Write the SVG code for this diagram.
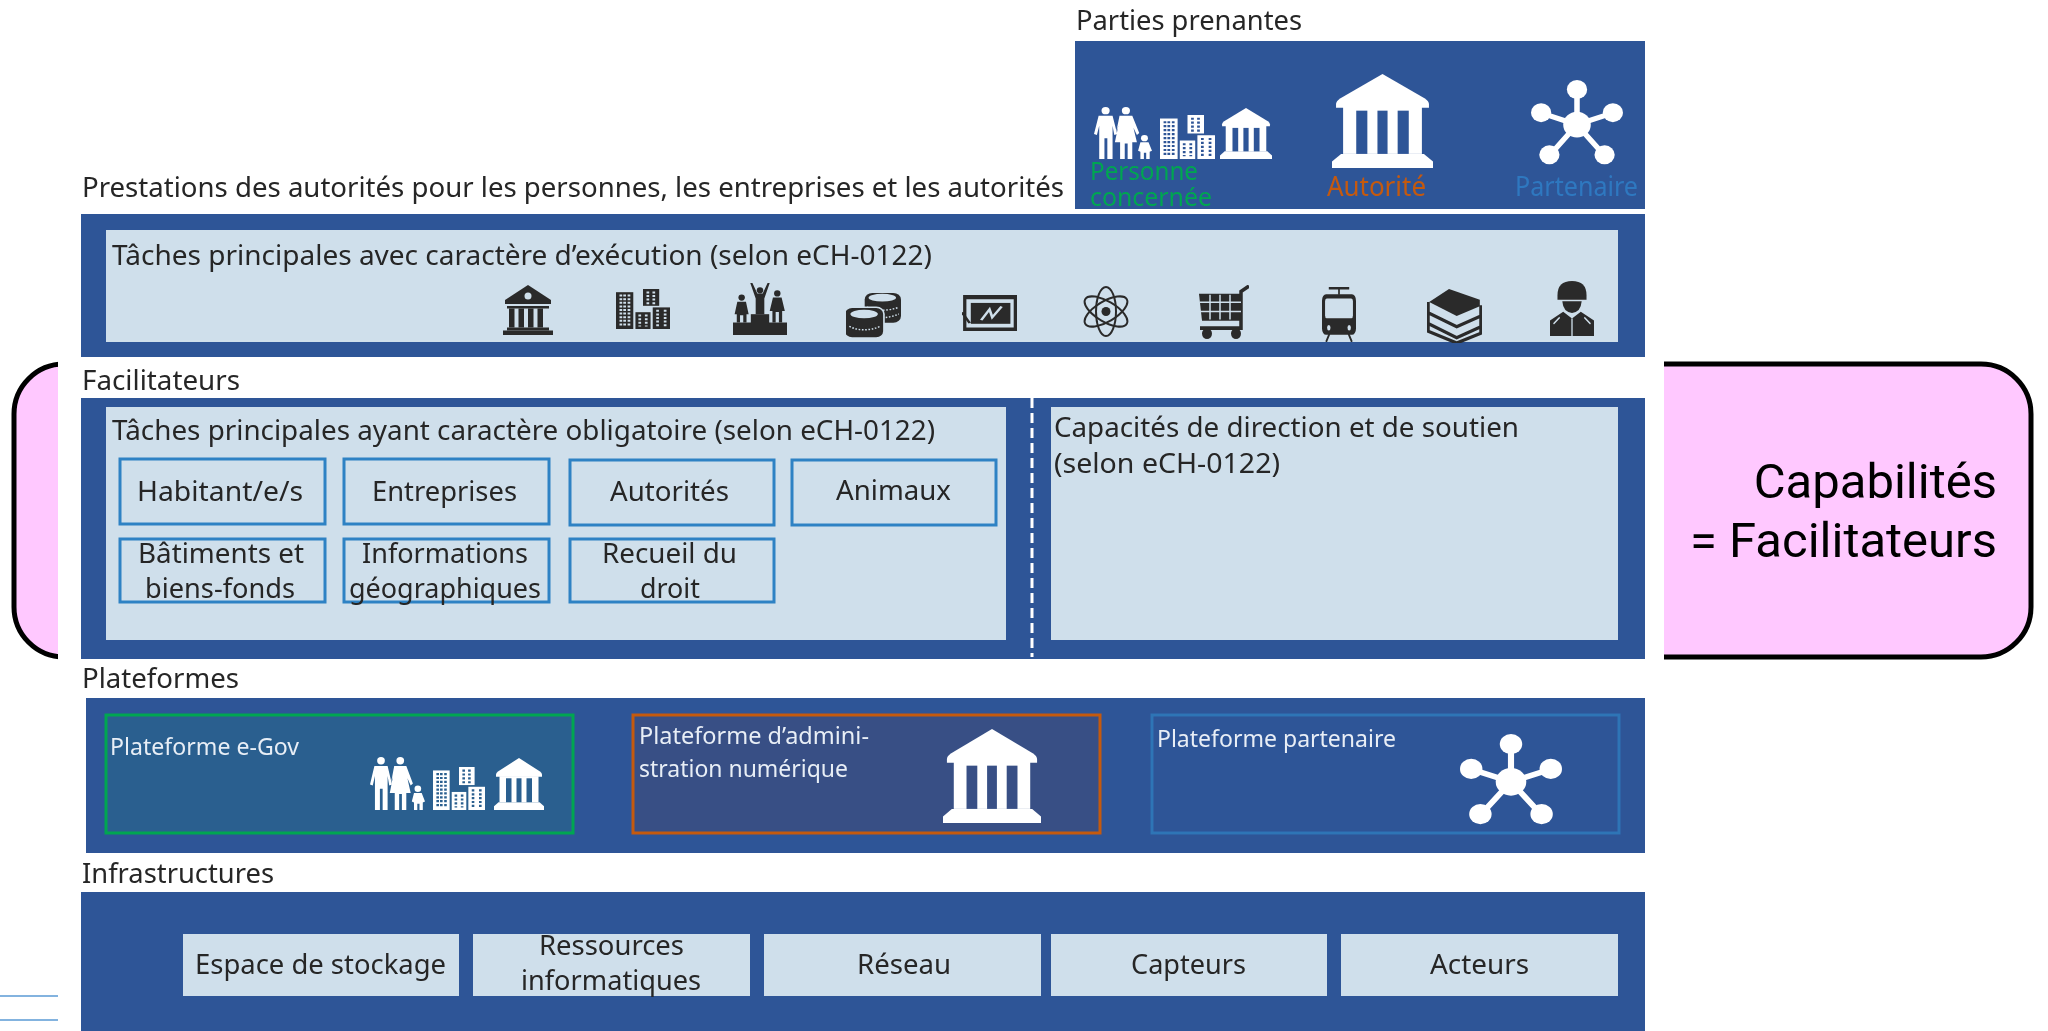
<svg xmlns="http://www.w3.org/2000/svg" width="2048" height="1031" viewBox="0 0 2048 1031">
<style>
.b{fill:#2f5597}.l{fill:#cfdfeb}
.t{font-family:"Noto Sans","Open Sans",sans-serif;font-size:28px;fill:#262626}
.w{font-size:24px;fill:#e8eef6}
.s{font-size:25px}
.c{stroke:#2e82c4;stroke-width:3;fill:none}
.k{fill:#2b2a29;--bg:#cfdfeb}
.o{fill:#fff;--bg:#2f5597}
</style>
<defs>
<filter id="soft" filterUnits="userSpaceOnUse" x="0" y="0" width="2048" height="1031"><feGaussianBlur stdDeviation="0.7"/></filter>
<symbol id="bank" viewBox="0 0 100 100" preserveAspectRatio="none">
<path d="M50 0L92 26Q96 29 96 32V36H4V32Q4 29 8 26Z"/>
<rect x="11" y="35" width="78" height="50"/>
<path d="M9 85H91L100 93V100H0V93Z"/>
<g style="fill:var(--bg)"><rect x="24" y="39" width="11" height="46"/><rect x="45" y="39" width="10" height="46"/><rect x="65" y="39" width="11" height="46"/></g>
</symbol>
<symbol id="bankd" viewBox="0 0 100 100" preserveAspectRatio="none">
<path d="M50 0L96 30V38H4V30Z"/>
<rect x="8" y="42" width="84" height="5"/>
<rect x="12" y="47" width="11" height="38"/><rect x="31" y="47" width="11" height="38"/><rect x="50" y="47" width="11" height="38"/><rect x="69" y="47" width="11" height="38"/>
<rect x="8" y="85" width="84" height="6"/><rect x="0" y="91" width="100" height="9"/>
<circle cx="50" cy="22" r="7" style="fill:var(--bg)"/>
</symbol>
<symbol id="family" viewBox="0 0 100 100" preserveAspectRatio="none">
<circle cx="20" cy="7" r="7"/><circle cx="55" cy="7" r="7"/><circle cx="87" cy="60" r="6"/>
<path d="M8 17H32L40 52L35 54L32 36V100H23V60H18V100H9V36L5 54L0 52Z"/>
<path d="M44 17H66L78 50L74 54L68 40L74 68H66V100H58V70H53V100H45V68H36L42 36L38 50Z"/>
<path d="M80 68H94L100 84L96 86V100H90V88H86V100H80V86L76 84Z"/>
</symbol>
<symbol id="bld" viewBox="0 0 100 100" preserveAspectRatio="none">
<rect x="0" y="8" width="32" height="92"/><rect x="50" y="0" width="30" height="42"/><rect x="36" y="58" width="28" height="42"/><rect x="68" y="46" width="32" height="54"/>
<g style="stroke:var(--bg);stroke-width:5;stroke-dasharray:5 4;fill:none"><path d="M9 14V94M16 14V94M24 14V94M59 6V38M70 6V38M44 64V94M56 64V94M77 52V94M91 52V94"/></g>
</symbol>
<symbol id="podium" viewBox="0 0 100 100" preserveAspectRatio="none">
<rect x="0" y="76" width="100" height="24"/><rect x="33" y="60" width="34" height="18"/>
<circle cx="50" cy="14" r="6"/><path d="M32 0L36 0L45 20H55L64 0L68 0L58 30V60H42V30Z"/>
<circle cx="16" cy="28" r="6"/><path d="M8 36H24L29 60H25V76H19V62H13V76H7V60H3Z"/>
<circle cx="82" cy="20" r="6"/><path d="M74 28H90L96 54H91V76H85V56H79V76H73V54H68Z"/>
</symbol>
<symbol id="coins" viewBox="0 0 100 100" preserveAspectRatio="none">
<rect x="34" y="6" width="66" height="62" rx="14"/>
<ellipse cx="66" cy="16" rx="25" ry="8" style="fill:var(--bg)"/>
<path d="M38 36Q66 48 96 36M60 58Q80 58 96 50" style="stroke:var(--bg);stroke-width:3;stroke-dasharray:3 3;fill:none"/>
<rect x="-3" y="36" width="72" height="64" rx="14" style="stroke:var(--bg);stroke-width:3"/>
<ellipse cx="33" cy="50" rx="25" ry="9" style="fill:var(--bg)"/>
<path d="M6 76Q32 90 62 76" style="stroke:var(--bg);stroke-width:3;stroke-dasharray:3 3;fill:none"/>
</symbol>
<symbol id="monitor" viewBox="0 0 100 100" preserveAspectRatio="none">
<path fill-rule="evenodd" d="M2 0H100V100H2ZM8 12V90H94V12Z"/>
<rect x="16" y="22" width="72" height="58"/>
<path d="M35 70L50 40L55 62L72 32" style="stroke:var(--bg);stroke-width:5;fill:none"/>
<path d="M0 48L14 78" style="stroke:#2b2a29;stroke-width:5"/>
</symbol>
<symbol id="atom" viewBox="0 0 100 100" preserveAspectRatio="none">
<g fill="none" stroke="#2b2a29" stroke-width="4"><ellipse cx="50" cy="50" rx="20" ry="48"/><ellipse cx="50" cy="50" rx="20" ry="48" transform="rotate(60 50 50)"/><ellipse cx="50" cy="50" rx="20" ry="48" transform="rotate(-60 50 50)"/></g>
<circle cx="50" cy="50" r="9"/>
</symbol>
<symbol id="cart" viewBox="0 0 100 100" preserveAspectRatio="none">
<path d="M0 16H82V66H6Z"/>
<path d="M84 70V12L100 2M2 80H84V68" style="stroke:#2b2a29;stroke-width:7;fill:none"/>
<circle cx="16" cy="90" r="10"/><circle cx="74" cy="90" r="10"/>
<g style="stroke:var(--bg);stroke-width:3"><path d="M2 32H84M3 49H84M22 18V64M42 18V64M62 18V64"/></g>
</symbol>
<symbol id="tram" viewBox="0 0 100 100" preserveAspectRatio="none">
<path d="M20 2H80M50 2V14" style="stroke:#2b2a29;stroke-width:5;fill:none"/>
<rect x="0" y="13" width="100" height="74" rx="12"/>
<rect x="9" y="21" width="82" height="36" rx="5" style="fill:var(--bg)"/>
<circle cx="20" cy="74" r="5" style="fill:var(--bg)"/><circle cx="80" cy="74" r="5" style="fill:var(--bg)"/>
<path d="M22 85L12 100M78 85L88 100" style="stroke:#2b2a29;stroke-width:5;fill:none"/>
</symbol>
<symbol id="books" viewBox="0 0 100 100" preserveAspectRatio="none">
<path d="M40 0L96 20V32L54 50L4 24Z"/>
<path d="M2 24V44L54 70L98 50V30M2 44V64L54 90L98 70V50M2 64V78L54 100L98 82V70" style="stroke:#2b2a29;stroke-width:6;fill:none"/>
</symbol>
<symbol id="soldier" viewBox="0 0 100 100" preserveAspectRatio="none">
<path d="M17 26Q17 0 50 0Q83 0 83 26V34H17Z"/>
<path d="M28 37H72Q70 57 50 58Q30 57 28 37Z"/>
<path d="M0 100V72L30 56L50 68L70 56L100 72V100Z"/>
<path d="M50 68V100M8 78L22 66M92 78L78 66" style="stroke:var(--bg);stroke-width:3;fill:none"/>
</symbol>
<symbol id="net" viewBox="0 0 100 100" preserveAspectRatio="none">
<path d="M50 52L50 10M50 52L10 38M50 52L90 38M50 52L20 88M50 52L80 88" stroke="#fff" stroke-width="6" fill="none"/>
<circle cx="50" cy="52" r="15"/><circle cx="50" cy="11" r="11"/><circle cx="11" cy="38" r="11"/><circle cx="89" cy="38" r="11"/><circle cx="20" cy="87" r="11"/><circle cx="80" cy="87" r="11"/>
</symbol>
</defs>

<g id="capabilites">
<rect x="14" y="364" width="2017" height="293" rx="50" fill="#ffc8ff" stroke="#000" stroke-width="5"/>
<rect x="58" y="355" width="1606" height="312" fill="#fff"/>
<text x="1997" y="498" text-anchor="end" font-family="Roboto,sans-serif" font-size="49" fill="#000">Capabilités</text>
<text x="1997" y="557" text-anchor="end" font-family="Roboto,sans-serif" font-size="49" fill="#000">= Facilitateurs</text>
</g>
<g id="connectors"><path d="M0 996H58M0 1020H58" stroke="#5b9bd5" stroke-width="1.5" fill="none"/></g>

<g filter="url(#soft)">
<g id="parties">
<text class="t" x="1076" y="30" textLength="226" lengthAdjust="spacingAndGlyphs">Parties prenantes</text>
<rect class="b" x="1075" y="41" width="570" height="168"/>
<g class="o">
<use href="#family" x="1094" y="107" width="58" height="52"/>
<use href="#bld" x="1160" y="115" width="55" height="44"/>
<use href="#bank" x="1220" y="108" width="52" height="51"/>
<use href="#bank" x="1332" y="74" width="101" height="94"/>
<use href="#net" x="1531" y="80" width="92" height="86"/>
</g>
<text class="t s" x="1090" y="180" textLength="108" lengthAdjust="spacingAndGlyphs" style="fill:#00a651">Personne</text>
<text class="t s" x="1090" y="206" textLength="122" lengthAdjust="spacingAndGlyphs" style="fill:#00a651">concernée</text>
<text class="t" x="1327" y="196" textLength="99" lengthAdjust="spacingAndGlyphs" style="fill:#c55a11">Autorité</text>
<text class="t" x="1515" y="196" textLength="123" lengthAdjust="spacingAndGlyphs" style="fill:#2f78c0">Partenaire</text>
</g>

<g id="prestations">
<text class="t" x="82" y="197" textLength="982" lengthAdjust="spacingAndGlyphs">Prestations des autorités pour les personnes, les entreprises et les autorités</text>
<rect class="b" x="81" y="214" width="1564" height="143"/>
<rect class="l" x="106" y="230" width="1512" height="112"/>
<text class="t" x="112" y="265" textLength="820" lengthAdjust="spacingAndGlyphs">Tâches principales avec caractère d’exécution (selon eCH-0122)</text>
<g class="k">
<use href="#bankd" x="503" y="285" width="50" height="50"/>
<use href="#bld" x="616" y="289" width="54" height="40"/>
<use href="#podium" x="733" y="283" width="54" height="52"/>
<use href="#coins" x="846" y="290" width="55" height="48"/>
<use href="#monitor" x="962" y="295" width="55" height="36"/>
<use href="#atom" x="1081" y="286" width="50" height="51"/>
<use href="#cart" x="1199" y="285" width="50" height="54"/>
<use href="#tram" x="1322" y="287" width="34" height="55"/>
<use href="#books" x="1427" y="289" width="55" height="54"/>
<use href="#soldier" x="1550" y="281" width="44" height="55"/>
</g>
</g>

<g id="facilitateurs">
<text class="t" x="82" y="390" textLength="158" lengthAdjust="spacingAndGlyphs">Facilitateurs</text>
<rect class="b" x="81" y="398" width="1564" height="261"/>
<rect class="l" x="106" y="407" width="900" height="233"/>
<rect class="l" x="1051" y="407" width="567" height="233"/>
<path d="M1032 398V657" stroke="#fff" stroke-width="3" stroke-dasharray="10 5" fill="none"/>
<text class="t" x="112" y="440" textLength="823" lengthAdjust="spacingAndGlyphs">Tâches principales ayant caractère obligatoire (selon eCH-0122)</text>
<text class="t" x="1054" y="437" textLength="465" lengthAdjust="spacingAndGlyphs">Capacités de direction et de soutien</text>
<text class="t" x="1054" y="473" textLength="226" lengthAdjust="spacingAndGlyphs">(selon eCH-0122)</text>
</g>
<g id="habitants"><rect class="c" x="120" y="459" width="205" height="65"/><text class="t" x="137" y="501" textLength="166" lengthAdjust="spacingAndGlyphs">Habitant/e/s</text></g>
<g id="entreprises"><rect class="c" x="344" y="459" width="205" height="65"/><text class="t" x="372" y="501" textLength="145" lengthAdjust="spacingAndGlyphs">Entreprises</text></g>
<g id="autorites"><rect class="c" x="570" y="460" width="204" height="65"/><text class="t" x="610" y="501" textLength="119" lengthAdjust="spacingAndGlyphs">Autorités</text></g>
<g id="animaux"><rect class="c" x="792" y="460" width="204" height="65"/><text class="t" x="836" y="500" textLength="115" lengthAdjust="spacingAndGlyphs">Animaux</text></g>
<g id="batiments"><rect class="c" x="120" y="539" width="205" height="63"/><text class="t" x="138" y="563" textLength="166" lengthAdjust="spacingAndGlyphs">Bâtiments et</text><text class="t" x="145" y="598" textLength="150" lengthAdjust="spacingAndGlyphs">biens-fonds</text></g>
<g id="geo"><rect class="c" x="344" y="539" width="205" height="63"/><text class="t" x="362" y="563" textLength="166" lengthAdjust="spacingAndGlyphs">Informations</text><text class="t" x="349" y="598" textLength="192" lengthAdjust="spacingAndGlyphs">géographiques</text></g>
<g id="recueil"><rect class="c" x="570" y="539" width="204" height="63"/><text class="t" x="602" y="563" textLength="135" lengthAdjust="spacingAndGlyphs">Recueil du</text><text class="t" x="640" y="598" textLength="60" lengthAdjust="spacingAndGlyphs">droit</text></g>

<g id="plateformes">
<text class="t" x="82" y="688" textLength="157" lengthAdjust="spacingAndGlyphs">Plateformes</text>
<rect class="b" x="86" y="698" width="1559" height="155"/>
</g>
<g id="egov" class="o" style="--bg:#2a5f8f">
<rect x="106" y="715" width="467" height="118" style="fill:#2a5f8f;stroke:#00a651;stroke-width:3"/>
<text class="t w" x="110" y="755" textLength="189" lengthAdjust="spacingAndGlyphs">Plateforme e-Gov</text>
<use href="#family" x="370" y="757" width="55" height="53"/>
<use href="#bld" x="433" y="767" width="52" height="43"/>
<use href="#bank" x="494" y="758" width="50" height="52"/>
</g>
<g id="admin" class="o" style="--bg:#374f85">
<rect x="633" y="715" width="467" height="118" style="fill:#374f85;stroke:#c55a11;stroke-width:3"/>
<text class="t w" x="639" y="744" textLength="230" lengthAdjust="spacingAndGlyphs">Plateforme d’admini-</text>
<text class="t w" x="639" y="777" textLength="209" lengthAdjust="spacingAndGlyphs">stration numérique</text>
<use href="#bank" x="943" y="729" width="98" height="94"/>
</g>
<g id="partenaire" class="o">
<rect x="1152" y="715" width="467" height="118" style="fill:#2f5597;stroke:#2e75b6;stroke-width:3"/>
<text class="t w" x="1157" y="747" textLength="239" lengthAdjust="spacingAndGlyphs">Plateforme partenaire</text>
<use href="#net" x="1460" y="734" width="102" height="92"/>
</g>

<g id="infrastructures">
<text class="t" x="82" y="883" textLength="192" lengthAdjust="spacingAndGlyphs">Infrastructures</text>
<rect class="b" x="81" y="892" width="1564" height="139"/>
</g>
<g id="stockage"><rect class="l" x="183" y="934" width="276" height="62"/><text class="t" x="195" y="974" textLength="251" lengthAdjust="spacingAndGlyphs">Espace de stockage</text></g>
<g id="ressources"><rect class="l" x="473" y="934" width="277" height="62"/><text class="t" x="539" y="955" textLength="145" lengthAdjust="spacingAndGlyphs">Ressources</text><text class="t" x="521" y="990" textLength="180" lengthAdjust="spacingAndGlyphs">informatiques</text></g>
<g id="reseau"><rect class="l" x="764" y="934" width="277" height="62"/><text class="t" x="857" y="974" textLength="94" lengthAdjust="spacingAndGlyphs">Réseau</text></g>
<g id="capteurs"><rect class="l" x="1051" y="934" width="276" height="62"/><text class="t" x="1131" y="974" textLength="115" lengthAdjust="spacingAndGlyphs">Capteurs</text></g>
<g id="acteurs"><rect class="l" x="1341" y="934" width="277" height="62"/><text class="t" x="1430" y="974" textLength="99" lengthAdjust="spacingAndGlyphs">Acteurs</text></g>
</g>
</svg>
